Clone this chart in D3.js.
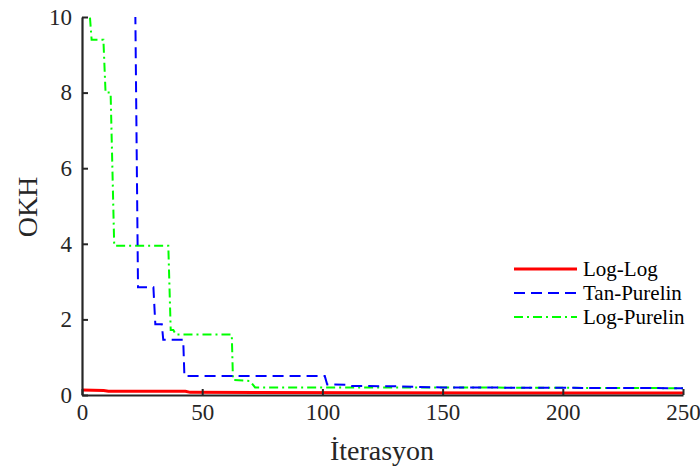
<!DOCTYPE html>
<html>
<head>
<meta charset="utf-8">
<script src="https://cdn.jsdelivr.net/npm/d3@7"></script>
<style>
  body { margin: 0; background: #fff; }
  svg { display: block; }
  svg text { font-family: "Liberation Serif", "Times New Roman", Times, serif; }
</style>
</head>
<body>
<div id="chart"></div>
<script>
// values (x = iteration, y = OKH)
const logLog = [[0, 0.13], [9, 0.12], [11, 0.1], [43, 0.1], [45, 0.07], [120, 0.06], [250, 0.05]];
const tanPurelin = [[0, 60], [22.2, 10], [23.3, 2.85], [29.7, 2.85], [30.5, 1.87], [33.2, 1.87], [33.8, 1.46],
  [42.1, 1.46], [42.6, 0.5], [101, 0.5], [102, 0.28], [110, 0.27], [112, 0.24], [130, 0.23], [150, 0.2], [200, 0.19], [250, 0.18]];
const logPurelin = [[0, 14], [3.3, 10], [4, 9.4], [8.9, 9.4], [9.8, 8.0], [11.9, 8.0], [13.4, 3.95], [35.9, 3.95],
  [36.9, 1.72], [38, 1.72], [39, 1.6], [62.3, 1.6], [62.8, 0.4], [69.9, 0.37], [72, 0.2], [150, 0.2], [250, 0.18]];

const seriesNames = ['Log-Log', 'Tan-Purelin', 'Log-Purelin'];
const xTicks = [0, 50, 100, 150, 200, 250];
const yTicks = [0, 2, 4, 6, 8, 10];

const width = 700;
const height = 469;
const margin = { top: 17, right: 17, bottom: 74, left: 82 };
const serif = '"Liberation Serif", "Times New Roman", Times, serif';

const svg = d3.select('#chart').append('svg')
  .attr('width', width)
  .attr('height', height)
  .attr('font-family', serif);

const x = d3.scaleLinear().domain([0, 250]).range([margin.left, width - margin.right]);
const y = d3.scaleLinear().domain([0, 10]).range([height - margin.bottom, margin.top]);

svg.append('clipPath').attr('id', 'clip')
  .append('rect')
  .attr('x', margin.left)
  .attr('y', margin.top)
  .attr('width', width - margin.left - margin.right + 2)
  .attr('height', height - margin.top - margin.bottom);

const line = d3.line().x((d) => x(d[0])).y((d) => y(d[1]));

const styles = [
  { color: '#ff0000', width: 3, dash: null },
  { color: '#0000ff', width: 2, dash: '11,6' },
  { color: '#00ff00', width: 2, dash: '9,4,2,4' },
];
const allSeries = [logLog, tanPurelin, logPurelin];

const plot = svg.append('g').attr('clip-path', 'url(#clip)');
// green and blue underneath, red on top
[2, 1, 0].forEach((i) => {
  plot.append('path')
    .datum(allSeries[i])
    .attr('fill', 'none')
    .attr('stroke', styles[i].color)
    .attr('stroke-width', styles[i].width)
    .attr('stroke-dasharray', styles[i].dash)
    .attr('d', line);
});

// axes, ticks pointing inward
const xAxis = svg.append('g')
  .attr('transform', `translate(0,${height - margin.bottom})`)
  .call(d3.axisBottom(x).tickValues(xTicks).tickSizeInner(-6).tickSizeOuter(0).tickPadding(9));

const yAxis = svg.append('g')
  .attr('transform', `translate(${margin.left},0)`)
  .call(d3.axisLeft(y).tickValues(yTicks).tickSizeInner(-6).tickSizeOuter(0).tickPadding(10));

[xAxis, yAxis].forEach((g) => {
  g.attr('font-family', serif).attr('font-size', 23);
  g.select('.domain').attr('stroke', '#262626').attr('stroke-width', 2.2);
  g.selectAll('.tick line').attr('stroke', '#262626').attr('stroke-width', 2);
  g.selectAll('.tick text').attr('fill', '#262626');
});

svg.append('text')
  .attr('x', 382)
  .attr('y', 460)
  .attr('text-anchor', 'middle')
  .attr('fill', '#262626')
  .attr('font-size', 28)
  .text('İterasyon');

svg.append('text')
  .attr('transform', `translate(37,207) rotate(-90)`)
  .attr('text-anchor', 'middle')
  .attr('fill', '#262626')
  .attr('font-size', 28)
  .text('OKH');

// legend
const legend = svg.append('g').attr('transform', 'translate(514,269)');
seriesNames.forEach((name, i) => {
  const row = legend.append('g').attr('transform', `translate(0,${i * 24})`);
  row.append('line')
    .attr('x1', 0).attr('x2', 63)
    .attr('y1', 0).attr('y2', 0)
    .attr('stroke', styles[i].color)
    .attr('stroke-width', styles[i].width)
    .attr('stroke-dasharray', styles[i].dash);
  row.append('text')
    .attr('x', 69)
    .attr('y', 0)
    .attr('dy', '0.33em')
    .attr('fill', '#000')
    .attr('font-size', 21)
    .text(name);
});
</script>
</body>
</html>
